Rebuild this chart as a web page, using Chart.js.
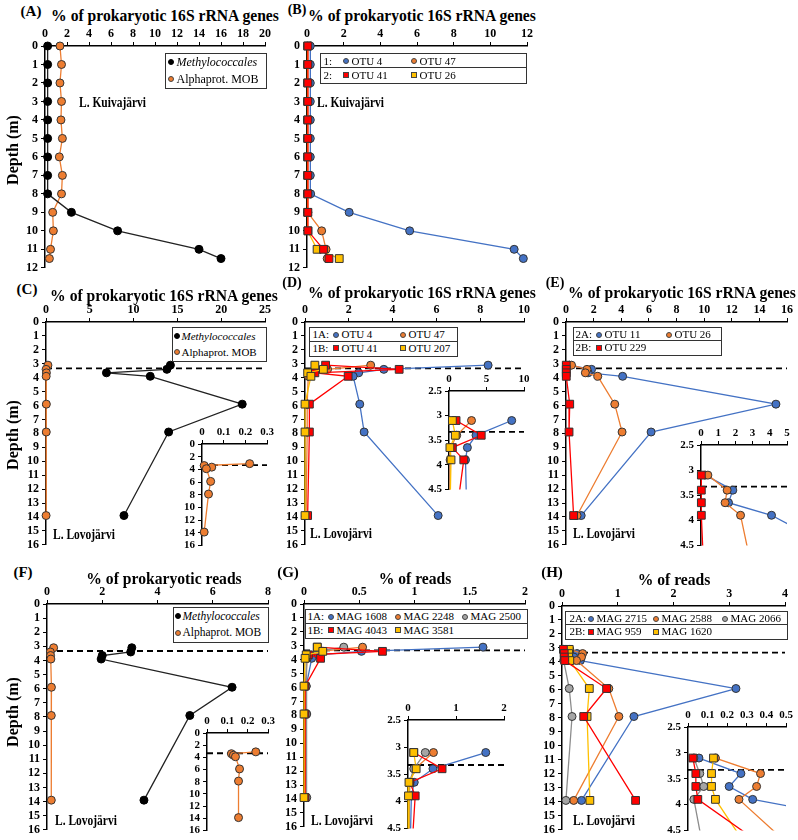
<!DOCTYPE html>
<html>
<head>
<meta charset="utf-8">
<title>Methanotroph depth profiles</title>
<script src="https://cdn.jsdelivr.net/npm/chart.js@4.4.1/dist/chart.umd.min.js"></script>
<style>
  body { margin: 0; background: #fff; }
  #fig { position: relative; width: 798px; height: 840px; overflow: hidden;
         font-family: "Liberation Serif", "Times New Roman", serif; color: #000; }
  #fig canvas { position: absolute; }
  .lbl { position: absolute; white-space: nowrap; font-weight: bold; line-height: 1; }
  .legend { position: absolute; border: 1.5px solid #333; background: #fff; box-sizing: border-box; }
  .legend span { position: absolute; white-space: nowrap; line-height: 1; box-sizing: border-box; }
</style>
</head>
<body>
<div id="fig"></div>
<script>
// ---------- data ----------
// L. Kuivajärvi, panels A and B
const kuivaDepth = [0, 1, 2, 3, 4, 5, 6, 7, 8, 9, 10, 11, 11.5];
const kuivaMethylococcales = [0.24, 0.24, 0.24, 0.24, 0.24, 0.24, 0.24, 0.24, 0.24, 2.4, 6.6, 14.0, 16.0];
const kuivaAlphaMOB = [1.36, 1.5, 1.36, 1.5, 1.45, 1.58, 1.3, 1.58, 1.5, 0.7, 0.76, 0.5, 0.4];
const kuivaOTU4 = [0.18, 0.18, 0.18, 0.18, 0.18, 0.18, 0.18, 0.18, 0.2, 2.3, 5.6, 11.3, 11.8];
const kuivaOTU47 = [0.03, 0.03, 0.03, 0.03, 0.03, 0.03, 0.03, 0.03, 0.03, 0.05, 0.8, 1.04, 1.1];
const kuivaOTU41 = [0.05, 0.05, 0.05, 0.05, 0.05, 0.05, 0.05, 0.05, 0.05, 0.05, 0.05, 0.9, 1.2];
const kuivaOTU26 = [0.03, 0.03, 0.03, 0.03, 0.03, 0.03, 0.03, 0.03, 0.03, 0.03, 0.05, 0.55, 1.76];

// L. Lovojärvi, panels C-H
const lovoDepth = [3.1, 3.4, 3.65, 3.9, 5.9, 7.9, 13.9];
const oxyclineDepth = 3.33;
const lovoMethylococcales16S = [14.2, 13.8, 6.9, 11.9, 22.4, 14.0, 8.9];
const lovoAlphaMOB16S = [0.22, 0.01, 0.045, 0.02, 0.04, 0.03, 0.01];
const lovoOTU4 = [8.36, 3.6, 2.45, 2.2, 2.5, 2.7, 6.08];
const lovoOTU47 = [3.0, 1.03, 0.25, 0.15, 0.1, 0.1, 0.05];
const lovoOTU41 = [0.94, 4.3, 0.45, 1.97, 0.2, 0.2, 0.12];
const lovoOTU207 = [0.45, 0.84, 0.12, 0.27, 0.0, 0.0, 0.0];
const lovoOTU11 = [0.25, 1.85, 1.6, 4.1, 15.2, 6.16, 1.1];
const lovoOTU26 = [0.4, 1.52, 1.4, 2.3, 3.53, 4.06, 0.8];
const lovoOTU229 = [0.02, 0.02, 0.02, 0.02, 0.27, 0.22, 0.55];
const readsMethylococcales = [3.07, 3.03, 2.0, 1.96, 6.7, 5.17, 3.51];
const readsAlphaMOB = [0.24, 0.12, 0.13, 0.14, 0.16, 0.155, 0.155];
const mag1608 = [1.62, 0.52, 0.13, 0.07, 0.02, 0.02, 0.02];
const mag2248 = [0.53, 0.14, 0.04, 0.03, 0.01, 0.01, 0.01];
const mag2500 = [0.36, 0.12, 0.03, 0.02, 0.02, 0.025, 0.025];
const mag4043 = [0.12, 0.71, 0.04, 0.15, 0.01, 0.01, 0.01];
const mag3581 = [0.12, 0.17, 0.02, 0.01, 0.0, 0.0, 0.0];
const mag2715 = [0.056, 0.27, 0.21, 0.33, 3.12, 1.29, 0.35];
const mag2588 = [0.14, 0.37, 0.35, 0.26, 0.84, 1.02, 0.21];
const mag2066 = [0.03, 0.06, 0.08, 0.03, 0.13, 0.18, 0.07];
const mag959 = [0.025, 0.04, 0.04, 0.05, 0.8, 0.39, 1.32];
const mag1620 = [0.13, 0.12, 0.12, 0.14, 0.49, 0.45, 0.5];

// ---------- colours ----------
const BLUE = '#4472C4', ORANGE = '#ED7D31', RED = '#FF0000', YELLOW = '#FFC000', GREY = '#A5A5A5', BLACK = '#000000';

const fig = document.getElementById('fig');

// plot rectangles on the page (left, top, right, bottom)
const areas = {
  A: { l: 45, t: 46, r: 265, b: 270 },
  B: { l: 307, t: 46, r: 527, b: 270 },
  C: { l: 46, t: 322, r: 265, b: 547 },
  Ci: { l: 202, t: 444, r: 267, b: 547 },
  D: { l: 305, t: 322, r: 524, b: 547 },
  Di: { l: 449, t: 391, r: 524, b: 491 },
  E: { l: 566, t: 322, r: 787, b: 547 },
  Ei: { l: 701, t: 445, r: 787, b: 547 },
  F: { l: 47, t: 604, r: 268, b: 832 },
  Fi: { l: 207, t: 733, r: 268, b: 832 },
  G: { l: 304, t: 604, r: 525, b: 829 },
  Gi: { l: 408, t: 720, r: 504, b: 830 },
  H: { l: 562, t: 606, r: 785, b: 832 },
  Hi: { l: 688, t: 727, r: 786, b: 832 }
};

function series(values, depths, color, shape, order, lineColor) {
  return {
    data: depths.map((d, i) => ({ x: values[i], y: d })),
    showLine: true,
    borderColor: lineColor || color,
    borderWidth: 1.3,
    backgroundColor: color,
    pointBackgroundColor: color,
    pointBorderColor: color === BLACK ? BLACK : '#333333',
    pointBorderWidth: 1,
    pointStyle: shape === 'sq' ? 'rect' : 'circle',
    pointRadius: shape === 'sq' ? 5.5 : 4,
    order: order
  };
}

function oxycline(xmax) {
  return {
    data: [{ x: 0, y: oxyclineDepth }, { x: xmax, y: oxyclineDepth }],
    showLine: true, borderColor: '#000', borderWidth: 1.8, borderDash: [6, 4],
    pointRadius: 0, order: 20
  };
}

// plain number labels: 3 instead of 3.0
const plainTick = v => String(Number(v.toFixed(3)));

function profileChart(area, xr, yr, datasets, inset) {
  const yW = inset ? 28 : 32, xH = inset ? 18 : 20, padR = 10, padB = 8;
  const cv = document.createElement('canvas');
  cv.width = area.r - area.l + yW + padR;
  cv.height = area.b - area.t + xH + padB;
  cv.style.left = (area.l - yW) + 'px';
  cv.style.top = (area.t - xH) + 'px';
  fig.appendChild(cv);
  const font = { family: 'Liberation Serif', weight: 'bold', size: inset ? 11 : 12 };
  const clip = inset ? { left: 8, top: 8, right: 0, bottom: 0 } : { left: 8, top: 8, right: 8, bottom: 8 };
  datasets.forEach(ds => { ds.clip = clip; });
  const axisBase = {
    type: 'linear',
    grid: { drawOnChartArea: false, color: '#000', tickLength: 4, lineWidth: 1 },
    border: { color: '#000', width: 1.5 }
  };
  return new Chart(cv, {
    type: 'scatter',
    data: { datasets: datasets },
    options: {
      responsive: false,
      animation: false,
      devicePixelRatio: 1,
      layout: { padding: { left: 0, top: 0, right: padR, bottom: padB } },
      plugins: { legend: { display: false }, tooltip: { enabled: false } },
      scales: {
        x: Object.assign({}, axisBase, {
          position: 'top', min: xr[0], max: xr[1],
          ticks: { stepSize: xr[2], font: font, color: '#000', padding: 1, autoSkip: false, maxRotation: 0, callback: plainTick },
          afterFit: s => { s.height = xH; }
        }),
        y: Object.assign({}, axisBase, {
          reverse: true, min: yr[0], max: yr[1],
          ticks: { stepSize: yr[2], font: font, color: '#000', padding: 3, autoSkip: false, callback: plainTick },
          afterFit: s => { s.width = yW; }
        })
      }
    }
  });
}

// ---------- charts ----------
profileChart(areas.A, [0, 20, 2], [0, 12, 1], [
  series(kuivaMethylococcales, kuivaDepth, BLACK, 'dot', 0, '#222'),
  series(kuivaAlphaMOB, kuivaDepth, ORANGE, 'dot', 1)
]);
profileChart(areas.B, [0, 12, 2], [0, 12, 1], [
  series(kuivaOTU41, kuivaDepth, RED, 'sq', 0),
  series(kuivaOTU26, kuivaDepth, YELLOW, 'sq', 1),
  series(kuivaOTU47, kuivaDepth, ORANGE, 'dot', 2),
  series(kuivaOTU4, kuivaDepth, BLUE, 'dot', 3)
]);
profileChart(areas.C, [0, 25, 5], [0, 16, 1], [
  series(lovoMethylococcales16S, lovoDepth, BLACK, 'dot', 0, '#222'),
  series(lovoAlphaMOB16S, lovoDepth, ORANGE, 'dot', 1),
  oxycline(25)
]);
profileChart(areas.Ci, [0, 0.3, 0.1], [0, 16, 2], [
  series(lovoAlphaMOB16S, lovoDepth, ORANGE, 'dot', 0),
  oxycline(0.3)
], true);
const dSets = () => [
  series(lovoOTU207, lovoDepth, YELLOW, 'sq', 0),
  series(lovoOTU41, lovoDepth, RED, 'sq', 1),
  series(lovoOTU47, lovoDepth, ORANGE, 'dot', 2),
  series(lovoOTU4, lovoDepth, BLUE, 'dot', 3)
];
profileChart(areas.D, [0, 10, 2], [0, 16, 1], dSets().concat([oxycline(10)]));
profileChart(areas.Di, [0, 10, 5], [2.5, 4.5, 0.5], dSets().concat([oxycline(10)]), true);
const eSets = () => [
  series(lovoOTU229, lovoDepth, RED, 'sq', 0),
  series(lovoOTU26, lovoDepth, ORANGE, 'dot', 1),
  series(lovoOTU11, lovoDepth, BLUE, 'dot', 2)
];
profileChart(areas.E, [0, 16, 2], [0, 16, 1], eSets().concat([oxycline(16)]));
profileChart(areas.Ei, [0, 5, 1], [2.5, 4.5, 0.5], eSets().concat([oxycline(5)]), true);
profileChart(areas.F, [0, 8, 2], [0, 16, 1], [
  series(readsMethylococcales, lovoDepth, BLACK, 'dot', 0, '#222'),
  series(readsAlphaMOB, lovoDepth, ORANGE, 'dot', 1),
  oxycline(8)
]);
profileChart(areas.Fi, [0, 0.3, 0.1], [0, 16, 2], [
  series(readsAlphaMOB, lovoDepth, ORANGE, 'dot', 0),
  oxycline(0.3)
], true);
const gSets = () => [
  series(mag3581, lovoDepth, YELLOW, 'sq', 0),
  series(mag4043, lovoDepth, RED, 'sq', 1),
  series(mag2500, lovoDepth, GREY, 'dot', 2, '#8C8C8C'),
  series(mag2248, lovoDepth, ORANGE, 'dot', 3),
  series(mag1608, lovoDepth, BLUE, 'dot', 4)
];
profileChart(areas.G, [0, 2, 0.5], [0, 16, 1], gSets().concat([oxycline(2)]));
profileChart(areas.Gi, [0, 2, 1], [2.5, 4.5, 0.5], gSets().concat([oxycline(2)]), true);
const hSets = () => [
  series(mag959, lovoDepth, RED, 'sq', 0),
  series(mag1620, lovoDepth, YELLOW, 'sq', 1),
  series(mag2066, lovoDepth, GREY, 'dot', 2, '#8C8C8C'),
  series(mag2588, lovoDepth, ORANGE, 'dot', 3),
  series(mag2715, lovoDepth, BLUE, 'dot', 4)
];
profileChart(areas.H, [0, 4, 1], [0, 16, 1], hSets().concat([oxycline(4)]));
profileChart(areas.Hi, [0, 0.5, 0.1], [2.5, 4.5, 0.5], hSets().concat([oxycline(0.5)]), true);

// ---------- text ----------
function label(str, x, y, size, anchor, rot, sx) {
  const el = document.createElement('div');
  el.className = 'lbl';
  el.textContent = str;
  el.style.fontSize = size + 'px';
  el.style.left = x + 'px';
  el.style.top = y + 'px';
  const left = anchor === 'left';
  el.style.transformOrigin = left ? '0 50%' : '50% 50%';
  el.style.transform = `translate(${left ? '0' : '-50%'},-50%)` +
    (rot ? ` rotate(${rot}deg)` : '') + (sx ? ` scaleX(${sx})` : '');
  fig.appendChild(el);
}

const title16S = '% of prokaryotic 16S rRNA genes';
label('(A)', 31, 11, 15); label(title16S, 165, 15, 17, 'center', 0, 0.92);
label('(B)', 297, 10, 14); label(title16S, 422, 15, 17, 'center', 0, 0.92);
label('(C)', 27, 289, 15); label(title16S, 164, 295, 17, 'center', 0, 0.92);
label('(D)', 292, 283, 14); label(title16S, 422, 292, 17, 'center', 0, 0.92);
label('(E)', 555, 283, 14); label(title16S, 682, 292, 17, 'center', 0, 0.92);
label('(F)', 23, 572, 15); label('% of prokaryotic reads', 164, 578, 17, 'center', 0, 0.92);
label('(G)', 288, 572, 15); label('% of reads', 415, 578, 17, 'center', 0, 0.92);
label('(H)', 552, 572, 15); label('% of reads', 674, 579, 17, 'center', 0, 0.92);

label('Depth (m)', 13, 150, 16, 'center', -90);
label('Depth (m)', 13, 435, 16, 'center', -90);
label('Depth (m)', 13, 712, 16, 'center', -90);

const lakeK = 'L. Kuivajärvi', lakeL = 'L. Lovojärvi';
label(lakeK, 79, 103, 14, 'left', 0, 0.82);
label(lakeK, 317, 103, 14, 'left', 0, 0.82);
label(lakeL, 53, 535, 14, 'left', 0, 0.82);
label(lakeL, 310, 534, 14, 'left', 0, 0.82);
label(lakeL, 573, 534, 14, 'left', 0, 0.82);
label(lakeL, 55, 821, 14, 'left', 0, 0.82);
label(lakeL, 311, 821, 14, 'left', 0, 0.82);
label(lakeL, 573, 821, 14, 'left', 0, 0.82);

// ---------- legends ----------
function legendBox(box, rows, divided, size) {
  const el = document.createElement('div');
  el.className = 'legend';
  el.style.left = box.l + 'px';
  el.style.top = box.t + 'px';
  el.style.width = (box.r - box.l) + 'px';
  el.style.height = (box.b - box.t) + 'px';
  el.style.fontSize = size + 'px';
  const inner = box.l + 1.5;
  const h = box.b - box.t - 3;
  const rh = h / rows.length;
  rows.forEach((row, ri) => {
    const cy = rh * ri + rh / 2;
    if (divided && ri > 0) {
      const d = document.createElement('div');
      d.style.cssText = `position:absolute;left:0;right:0;top:${rh * ri - 0.75}px;border-top:1.5px solid #333`;
      el.appendChild(d);
    }
    if (row.prefix) {
      const p = document.createElement('span');
      p.textContent = row.prefix;
      p.style.left = (row.px - inner) + 'px';
      p.style.top = (cy - size / 2) + 'px';
      el.appendChild(p);
    }
    row.items.forEach(it => {
      const m = document.createElement('span');
      const s = 6;
      m.style.cssText = `left:${it.mx - inner - s / 2}px;top:${cy - s / 2}px;width:${s}px;height:${s}px;` +
        `background:${it.c};border:1px solid ${it.c === BLACK ? BLACK : '#444'};` +
        (it.sq ? '' : 'border-radius:50%;');
      el.appendChild(m);
      const t = document.createElement('span');
      t.textContent = it.text;
      t.style.left = (it.tx - inner) + 'px';
      t.style.top = (cy - size / 2) + 'px';
      if (it.it) t.style.fontStyle = 'italic';
      el.appendChild(t);
    });
  });
  fig.appendChild(el);
}

function mobLegend(box, mx, tx, size) {
  legendBox(box, [
    { items: [{ mx: mx, tx: tx, c: BLACK, text: 'Methylococcales', it: true }] },
    { items: [{ mx: mx, tx: tx, c: ORANGE, text: 'Alphaprot. MOB' }] }
  ], false, size);
}
mobLegend({ l: 165, t: 53, r: 267, b: 89 }, 171, 177, 12);
mobLegend({ l: 172, t: 327, r: 267, b: 362 }, 177, 182, 11);
mobLegend({ l: 173, t: 607, r: 269, b: 643 }, 178, 183, 11.5);

legendBox({ l: 320, t: 53, r: 527, b: 84 }, [
  { prefix: '1:', px: 324, items: [{ mx: 346, tx: 352, c: BLUE, text: 'OTU 4' }, { mx: 414, tx: 420, c: ORANGE, text: 'OTU 47' }] },
  { prefix: '2:', px: 324, items: [{ mx: 346, tx: 352, c: RED, sq: true, text: 'OTU 41' }, { mx: 414, tx: 420, c: YELLOW, sq: true, text: 'OTU 26' }] }
], true, 11);
legendBox({ l: 309, t: 327, r: 458, b: 357 }, [
  { prefix: '1A:', px: 313, items: [{ mx: 336, tx: 342, c: BLUE, text: 'OTU 4' }, { mx: 403, tx: 409, c: ORANGE, text: 'OTU 47' }] },
  { prefix: '1B:', px: 313, items: [{ mx: 336, tx: 342, c: RED, sq: true, text: 'OTU 41' }, { mx: 403, tx: 409, c: YELLOW, sq: true, text: 'OTU 207' }] }
], true, 11);
legendBox({ l: 573, t: 327, r: 722, b: 356 }, [
  { prefix: '2A:', px: 576, items: [{ mx: 599, tx: 605, c: BLUE, text: 'OTU 11' }, { mx: 669, tx: 675, c: ORANGE, text: 'OTU 26' }] },
  { prefix: '2B:', px: 576, items: [{ mx: 599, tx: 605, c: RED, sq: true, text: 'OTU 229' }] }
], true, 11);
legendBox({ l: 305, t: 609, r: 528, b: 639 }, [
  { prefix: '1A:', px: 308, items: [{ mx: 331, tx: 337, c: BLUE, text: 'MAG 1608' }, { mx: 398, tx: 404, c: ORANGE, text: 'MAG 2248' }, { mx: 465, tx: 471, c: GREY, text: 'MAG 2500' }] },
  { prefix: '1B:', px: 308, items: [{ mx: 331, tx: 337, c: RED, sq: true, text: 'MAG 4043' }, { mx: 398, tx: 404, c: YELLOW, sq: true, text: 'MAG 3581' }] }
], true, 11);
legendBox({ l: 565, t: 611, r: 788, b: 640 }, [
  { prefix: '2A:', px: 570, items: [{ mx: 591, tx: 597, c: BLUE, text: 'MAG 2715' }, { mx: 656, tx: 662, c: ORANGE, text: 'MAG 2588' }, { mx: 725, tx: 731, c: GREY, text: 'MAG 2066' }] },
  { prefix: '2B:', px: 570, items: [{ mx: 591, tx: 597, c: RED, sq: true, text: 'MAG 959' }, { mx: 656, tx: 662, c: YELLOW, sq: true, text: 'MAG 1620' }] }
], true, 11);
</script>
</body>
</html>
